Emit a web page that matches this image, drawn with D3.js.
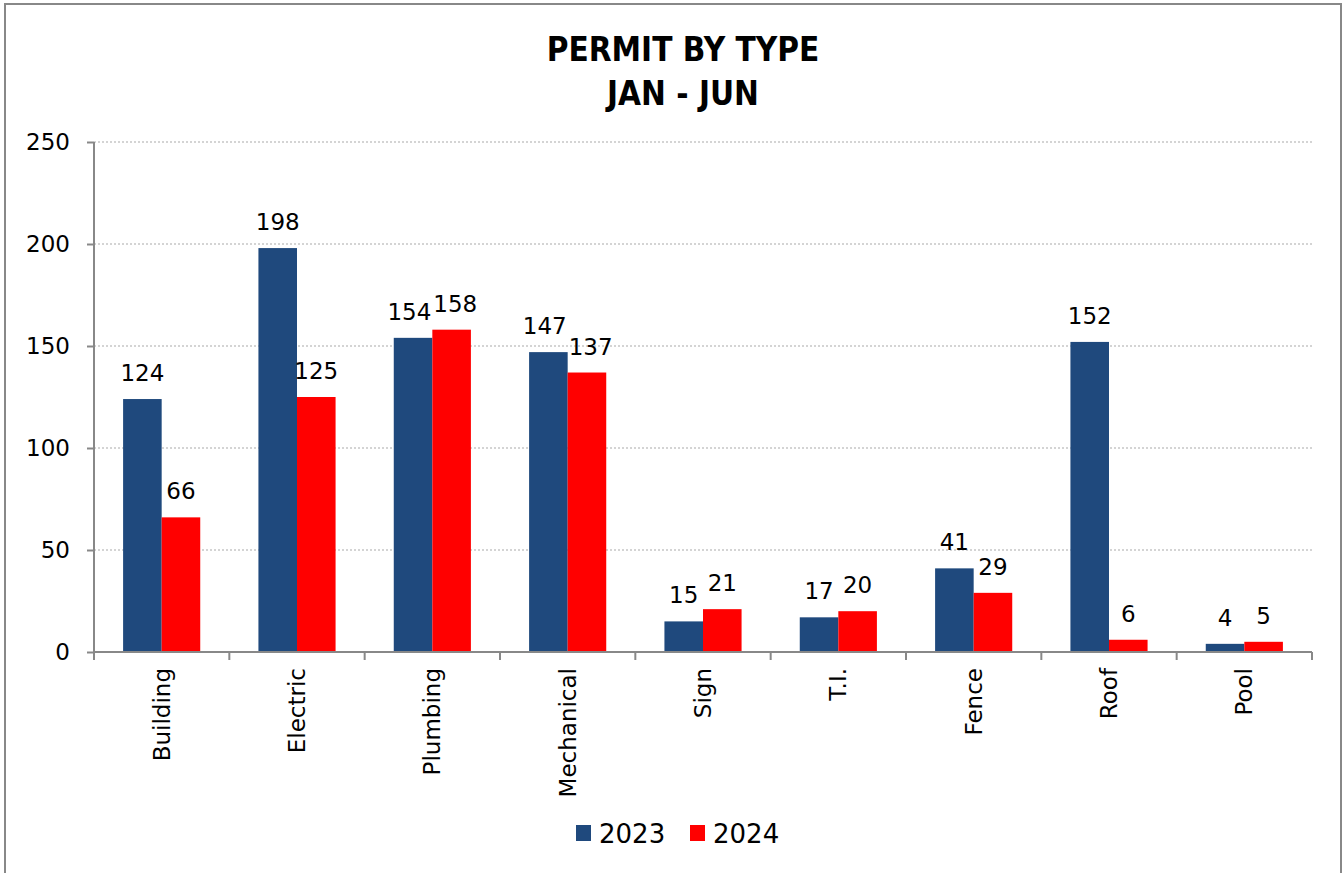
<!DOCTYPE html>
<html>
<head>
<meta charset="utf-8">
<script src="https://cdn.jsdelivr.net/npm/d3@7"></script>
<style>
  body { margin: 0; background: #fff; }
  svg { display: block; }
  .tick text { font-family: "DejaVu Sans", Verdana, sans-serif; fill: #000; }
</style>
</head>
<body>
<div id="chart"></div>
<script>
const categories = ['Building', 'Electric', 'Plumbing', 'Mechanical', 'Sign', 'T.I.', 'Fence', 'Roof', 'Pool'];
const seriesNames = ['2023', '2024'];
const values2023 = [124, 198, 154, 147, 15, 17, 41, 152, 4];
const values2024 = [66, 125, 158, 137, 21, 20, 29, 6, 5];
const yTicks = [0, 50, 100, 150, 200, 250];
const colors = ['#1f497d', '#ff0000'];

const width = 1343, height = 873;
const margin = { top: 142, right: 31, bottom: 221, left: 94 };

const svg = d3.select('#chart').append('svg')
   .attr('width', width)
   .attr('height', height);

// outer frame
svg.append('rect')
   .attr('x', 5).attr('y', 4)
   .attr('width', 1336).attr('height', 880)
   .attr('fill', 'none')
   .attr('stroke', '#888')
   .attr('stroke-width', 2);

// title, squeezed a bit to look condensed
const title = svg.append('text')
   .attr('text-anchor', 'middle')
   .attr('transform', 'translate(683,0) scale(0.9,1)')
   .attr('font-family', '"DejaVu Sans", sans-serif')
   .attr('font-weight', 'bold')
   .attr('font-size', 33);
title.append('tspan').attr('x', 0).attr('y', 61).text('PERMIT BY TYPE');
title.append('tspan').attr('x', 0).attr('y', 105).text('JAN - JUN');

const x0 = d3.scaleBand()
   .domain(categories)
   .range([margin.left, width - margin.right])
   .paddingInner(0.43)
   .paddingOuter(0.215);

const x1 = d3.scaleBand()
   .domain(seriesNames)
   .range([0, x0.bandwidth()]);

const y = d3.scaleLinear()
   .domain([0, 250])
   .range([height - margin.bottom, margin.top]);

// gridlines
svg.append('g')
   .selectAll('line')
   .data(yTicks.filter(d => d > 0))
   .join('line')
      .attr('x1', margin.left)
      .attr('x2', width - margin.right)
      .attr('y1', d => y(d))
      .attr('y2', d => y(d))
      .attr('stroke', '#aaa')
      .attr('stroke-width', 1.2)
      .attr('stroke-dasharray', '2,2');

const data = categories.map((c, i) => ({ category: c, values: [values2023[i], values2024[i]] }));

const groups = svg.append('g')
   .selectAll('g')
   .data(data)
   .join('g')
      .attr('transform', d => `translate(${x0(d.category)},0)`);

groups.selectAll('rect')
   .data(d => d.values.map((v, i) => ({ key: seriesNames[i], value: v, i })))
   .join('rect')
      .attr('x', d => x1(d.key))
      .attr('y', d => y(d.value))
      .attr('width', x1.bandwidth())
      .attr('height', d => y(0) - y(d.value))
      .attr('fill', d => colors[d.i]);

const labelSize = 23;
groups.each(function(d) {
   const g = d3.select(this);
   const labels = d.values.map((v, i) => g.append('text')
      .attr('x', x1(seriesNames[i]) + x1.bandwidth() / 2)
      .attr('y', y(v) - 18)
      .attr('text-anchor', 'middle')
      .attr('font-family', '"DejaVu Sans", Verdana, sans-serif')
      .attr('font-size', labelSize)
      .text(v));
   // push the two labels apart if they sit on about the same line and collide
   const [a, b] = labels;
   if (Math.abs(+a.attr('y') - +b.attr('y')) < labelSize) {
      const wa = a.node().getComputedTextLength(), wb = b.node().getComputedTextLength();
      const gap = (+b.attr('x') - wb / 2) - (+a.attr('x') + wa / 2);
      if (gap < 2) {
         const shift = (2 - gap) / 2;
         a.attr('x', +a.attr('x') - shift);
         b.attr('x', +b.attr('x') + shift);
      }
   }
});

// y axis
const yAxis = svg.append('g')
   .attr('transform', `translate(${margin.left},0)`)
   .call(d3.axisLeft(y).tickValues(yTicks).tickSize(7).tickPadding(17));
yAxis.selectAll('path, line').attr('stroke', '#888').attr('stroke-width', 2);
yAxis.select('.domain').attr('d', `M0,${y(250)}V${y(0)}`);
yAxis.selectAll('text').attr('font-size', 23);

// x axis with ticks at category boundaries
const xAxis = svg.append('g')
   .attr('transform', `translate(0,${y(0)})`);
const step = x0.step();
const bounds = d3.range(categories.length + 1).map(i => margin.left + i * step);
xAxis.append('line')
   .attr('x1', margin.left).attr('x2', width - margin.right)
   .attr('stroke', '#888').attr('stroke-width', 2);
xAxis.selectAll('.xtick')
   .data(bounds)
   .join('line')
      .attr('class', 'xtick')
      .attr('x1', d => d).attr('x2', d => d)
      .attr('y1', 0).attr('y2', 8)
      .attr('stroke', '#888').attr('stroke-width', 2);
xAxis.selectAll('.xlabel')
   .data(categories)
   .join('text')
      .attr('class', 'xlabel')
      .attr('transform', d => `translate(${x0(d) + x0.bandwidth() / 2 + 8},16) rotate(-90)`)
      .attr('text-anchor', 'end')
      .attr('font-family', '"DejaVu Sans", Verdana, sans-serif')
      .attr('font-size', 23)
      .text(d => d);

// legend
const legend = svg.append('g');
const legendX = [576, 690];
seriesNames.forEach((s, i) => {
   legend.append('rect')
      .attr('x', legendX[i]).attr('y', 825)
      .attr('width', 15).attr('height', 16)
      .attr('fill', colors[i]);
   legend.append('text')
      .attr('x', legendX[i] + 23).attr('y', 843)
      .attr('font-family', '"DejaVu Sans", Verdana, sans-serif')
      .attr('font-size', 26)
      .text(s);
});
</script>
</body>
</html>
